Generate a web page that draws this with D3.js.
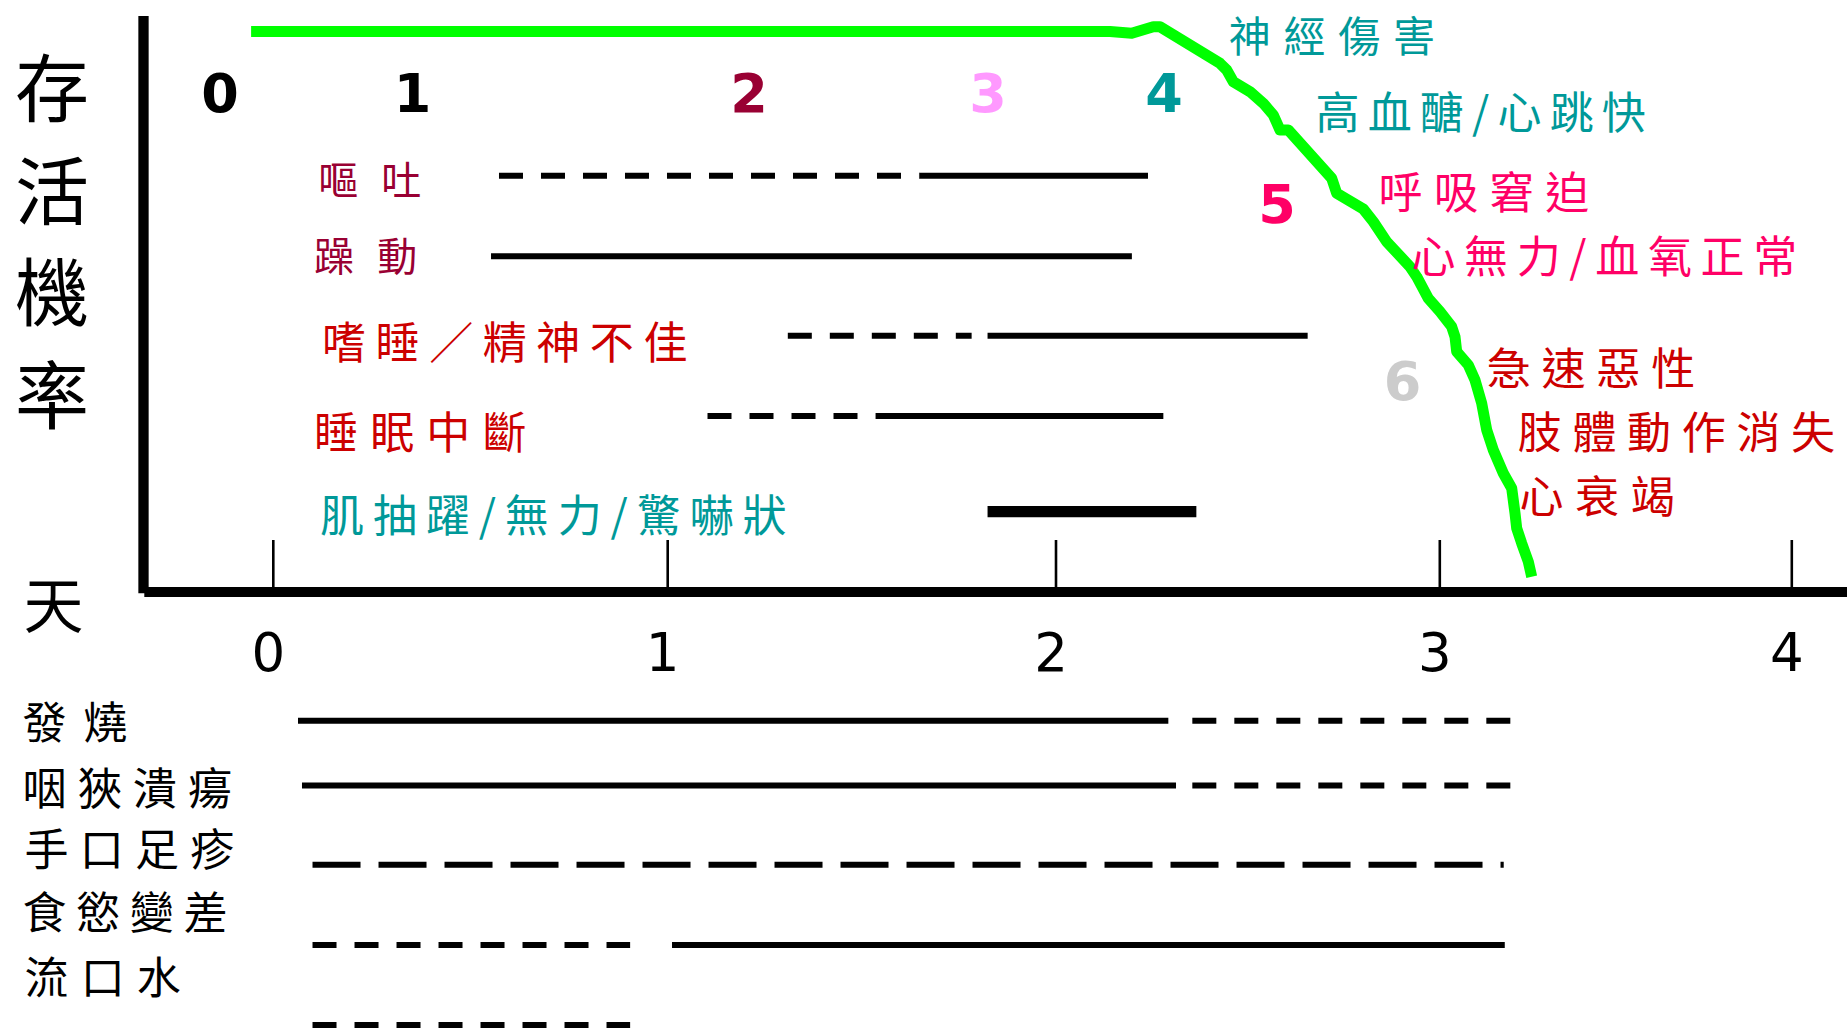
<!DOCTYPE html>
<html><head><meta charset="utf-8">
<script src="https://cdn.jsdelivr.net/npm/d3@7"></script>
<style>
html,body{margin:0;padding:0;background:#fff;overflow:hidden;}
svg{display:block;}
</style></head>
<body>
<svg id="chart" width="1847" height="1029"></svg>
<script>
// ================= DATA =================
const dayTicks = [0, 1, 2, 3, 4];
const dayTickLabels = ["0", "1", "2", "3", "4"];

// survival probability curve (day, probability)
const survivalDays = [-0.055, 2.142, 2.1985, 2.2548, 2.2723, 2.4286, 2.4461, 2.4633, 2.5068, 2.5414, 2.5675, 2.5849, 2.6066,
  2.7196, 2.7327, 2.802, 2.828, 2.8629, 2.9236, 2.9411, 2.9713, 3.002, 3.0352, 3.0446, 3.0494, 3.0824, 3.1014,
  3.1204, 3.1347, 3.1534, 3.1818, 3.2057, 3.2151, 3.2199, 3.2341, 3.2529, 3.2625];
const survivalProb = [1.0, 1.0, 0.9968, 1.0086, 1.0086, 0.9433, 0.9313, 0.9104, 0.8926, 0.8719, 0.851, 0.8243, 0.8243,
  0.7381, 0.7113, 0.6833, 0.6607, 0.625, 0.5804, 0.5625, 0.524, 0.5001, 0.4733, 0.4555, 0.4287, 0.405, 0.3782,
  0.3367, 0.289, 0.2533, 0.2118, 0.185, 0.1404, 0.1136, 0.0869, 0.054, 0.0273];

// stage numbers (anchored at day, probability)
const stageLabels = ["0", "1", "2", "3", "4", "5", "6"];
const stageDays = [-0.134, 0.354, 1.211, 1.826, 2.283, 2.577, 2.904];
const stageProb = [0.8564, 0.8564, 0.8564, 0.8564, 0.8564, 0.6578, 0.3426];

// upper symptoms: segments [startDay, endDay, lineType]
const upperSymptoms = ["嘔吐", "躁動", "嗜睡／精神不佳", "睡眠中斷", "肌抽躍/無力/驚嚇狀"];
const upperSegments = [
  [[0.5735, 1.650, "dash"], [1.650, 2.241, "solid"]],
  [[0.5533, 2.199, "solid"]],
  [[1.3106, 1.784, "dash"], [1.825, 2.657, "solid"]],
  [[1.1038, 1.537, "dash"], [1.537, 2.281, "solid"]],
  [[1.825, 2.367, "bold"]]
];

// lower symptoms
const lowerSymptoms = ["發燒", "咽狹潰瘍", "手口足疹", "食慾變差", "流口水"];
const lowerSegments = [
  [[0.0639, 2.294, "solid"], [2.3565, 3.203, "dash"]],
  [[0.074, 2.314, "solid"], [2.3565, 3.203, "dash"]],
  [[0.1007, 3.183, "longdash"]],
  [[0.1007, 0.906, "dash"], [1.0124, 3.186, "solid"]],
  [[0.1007, 0.906, "dash"]]
];

// outcome annotations along the curve (left edge day, centre probability)
const outcomeLabels = ["神經傷害", "高血醣/心跳快", "呼吸窘迫", "心無力/血氧正常", "急速惡性", "肢體動作消失", "心衰竭"];
const outcomeDays = [2.457, 2.683, 2.847, 2.933, 3.141, 3.229, 3.234];
const outcomeProb = [0.9973, 0.860, 0.7172, 0.603, 0.4032, 0.289, 0.1748];

const yAxisTitle = ["存", "活", "機", "率"];
const xAxisTitle = "天";

// ================= STYLES / LAYOUT =================
const stageColors = ["#000000", "#000000", "#990033", "#FF99FF", "#009999", "#FF0066", "#CCCCCC"];
const upperColors = ["#990033", "#990033", "#CC0000", "#CC0000", "#009999"];
const outcomeColors = ["#009999", "#009999", "#FF0066", "#FF0066", "#CC0000", "#CC0000", "#CC0000"];
const outcomeSpans = [202, 326, 206.4, 381.4, 204, 313, 150.7];
const outcomeFont = [42, 44, 44, 44, 44, 44, 44];
const upperLabelX = [320.3, 316.3, 324.2, 316.3, 322.3];
const upperLabelSpan = [99, 99, 361, 208, 462];
const upperLabelY = [177.5, 254, 340, 430, 513.3];
const upperLabelFont = [40, 40, 44, 44, 44];
const upperLineY = [175.8, 256.2, 335.8, 416, 511.7];
const lowerLabelX = [24.6, 24.6, 26.8, 24.6, 26.8];
const lowerLabelSpan = [100.4, 205.3, 205.2, 200.8, 151.8];
const lowerLabelY = [720, 786, 847, 910, 975];
const lowerLineY = [720.8, 785.5, 864.7, 945, 1025];

const CJK = "'Noto Sans CJK TC','Noto Sans CJK SC',sans-serif";
const lineStyles = {
  solid: {w: 6, dash: null},
  dash: {w: 6, dash: "24,18"},
  longdash: {w: 6, dash: "48,18"},
  bold: {w: 11.3, dash: null}
};

// ================= SCALES =================
const x = d3.scaleLinear().domain(dayTicks).range([272.8, 667.2, 1055.5, 1439.3, 1791.3]);
const y = d3.scaleLinear().domain([0, 1]).range([592, 31.5]);
const upperRowY = d3.scaleOrdinal().domain(upperSymptoms).range(upperLineY);
const upperRowLabelY = d3.scaleOrdinal().domain(upperSymptoms).range(upperLabelY);
const lowerRowY = d3.scaleOrdinal().domain(lowerSymptoms).range(lowerLineY);
const lowerRowLabelY = d3.scaleOrdinal().domain(lowerSymptoms).range(lowerLabelY);

const svg = d3.select("#chart");

// ================= AXES FRAME =================
svg.append("line").attr("x1", 143.5).attr("x2", 143.5).attr("y1", 16).attr("y2", 593.3)
  .attr("stroke", "#000").attr("stroke-width", 10.3);
svg.append("line").attr("x1", 144.3).attr("x2", 1847).attr("y1", 592).attr("y2", 592)
  .attr("stroke", "#000").attr("stroke-width", 10);

const xAxis = d3.axisBottom(x).tickValues(dayTicks).tickFormat((d, i) => dayTickLabels[i])
  .tickSizeInner(-47).tickSizeOuter(0);
const gx = svg.append("g").attr("transform", "translate(0,587)").call(xAxis);
gx.select(".domain").remove();
gx.selectAll(".tick line").attr("stroke", "#000").attr("stroke-width", 2.6);
gx.selectAll(".tick text").attr("y", 83.5).attr("dy", null).attr("dx", -5)
  .attr("fill", "#000").style("font-family", "'DejaVu Sans',sans-serif").style("font-size", "53px");

// axis titles
svg.append("g").selectAll("text").data(yAxisTitle).join("text")
  .attr("x", 52).attr("y", (d, i) => [83.3, 186, 287.5, 390][i])
  .attr("text-anchor", "middle").attr("dominant-baseline", "central")
  .style("font-family", CJK).style("font-size", "74px").attr("fill", "#000").text(d => d);
svg.append("text").attr("x", 53.5).attr("y", 601.5)
  .attr("text-anchor", "middle").attr("dominant-baseline", "central")
  .style("font-family", CJK).style("font-size", "60px").attr("fill", "#000").text(xAxisTitle);

// ================= SURVIVAL CURVE =================
const curvePts = survivalDays.map((d, i) => [d, survivalProb[i]]);
svg.append("path").datum(curvePts)
  .attr("d", d3.line().x(d => x(d[0])).y(d => y(d[1])))
  .attr("fill", "none").attr("stroke", "#00FF00").attr("stroke-width", 11)
  .attr("stroke-linejoin", "round").attr("stroke-linecap", "butt");

// ================= STAGE NUMBERS =================
svg.append("g").selectAll("text").data(stageLabels).join("text")
  .attr("x", (d, i) => x(stageDays[i])).attr("y", (d, i) => y(stageProb[i]))
  .attr("text-anchor", "middle")
  .style("font-family", "'DejaVu Sans',Verdana,sans-serif").style("font-weight", "bold").style("font-size", "54px")
  .attr("fill", (d, i) => stageColors[i]).text(d => d);

// ================= SYMPTOM LINES =================
function drawRows(symptoms, segments, rowY) {
  const g = svg.append("g");
  symptoms.forEach((s, i) => {
    segments[i].forEach(seg => {
      const st = lineStyles[seg[2]];
      g.append("line")
        .attr("x1", x(seg[0])).attr("x2", x(seg[1]))
        .attr("y1", rowY(s)).attr("y2", rowY(s))
        .attr("stroke", "#000").attr("stroke-width", st.w)
        .attr("stroke-dasharray", st.dash);
    });
  });
}
drawRows(upperSymptoms, upperSegments, upperRowY);
drawRows(lowerSymptoms, lowerSegments, lowerRowY);

// ================= LABELS =================
function spacedText(g, txt, left, cy, span, fs, color) {
  const pad = 0.05 * fs;
  g.append("text")
    .attr("x", left - pad).attr("y", cy)
    .attr("dominant-baseline", "central")
    .attr("textLength", span + 2 * pad).attr("lengthAdjust", "spacing")
    .style("font-family", CJK).style("font-size", fs + "px")
    .attr("fill", color).text(txt);
}
const gl = svg.append("g");
upperSymptoms.forEach((s, i) => spacedText(gl, s, upperLabelX[i], upperRowLabelY(s), upperLabelSpan[i], upperLabelFont[i], upperColors[i]));
lowerSymptoms.forEach((s, i) => spacedText(gl, s, lowerLabelX[i], lowerRowLabelY(s), lowerLabelSpan[i], 44, "#000"));
outcomeLabels.forEach((s, i) => spacedText(gl, s, x(outcomeDays[i]), y(outcomeProb[i]), outcomeSpans[i], outcomeFont[i], outcomeColors[i]));
</script>
</body></html>
